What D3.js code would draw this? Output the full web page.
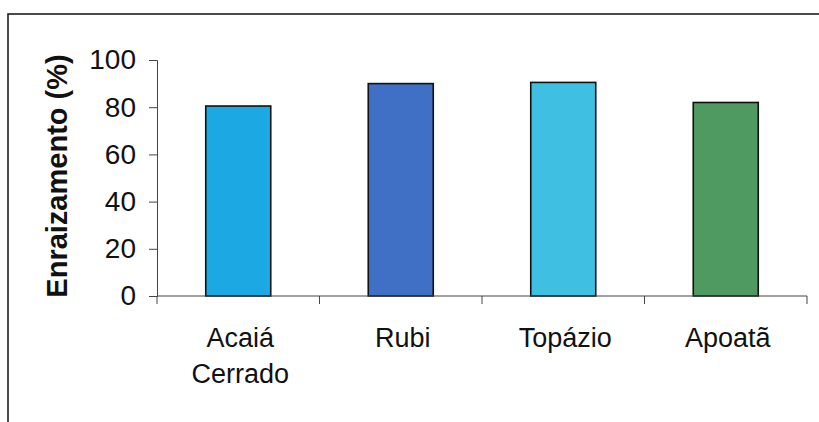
<!DOCTYPE html>
<html><head><meta charset="utf-8">
<script src="https://cdn.jsdelivr.net/npm/d3@7"></script>
<style>body{margin:0;background:#fff}svg{display:block}</style>
</head><body><svg id="c" width="819" height="422"></svg>
<script>
const categories = [["Acaiá","Cerrado"],["Rubi"],["Topázio"],["Apoatã"]];
const values = [80.5, 90, 90.5, 82];
const colors = ["#1ca8e2","#3f70c6","#3fc0e2","#4e9a60"];
const yTicks = [0,20,40,60,80,100];
const yTitle = "Enraizamento (%)";

const svg = d3.select("#c");
const font = "'Liberation Sans', Arial, sans-serif";
// frame
svg.append("rect").attr("x",8).attr("y",14).attr("width",830).attr("height",430)
  .attr("fill","none").attr("stroke","#111").attr("stroke-width",1.5);

const m = {l:157, r:807, t:60, b:296};
const x = d3.scaleBand().domain(d3.range(categories.length)).range([m.l,m.r]).paddingInner(0.6).paddingOuter(0.3);
const y = d3.scaleLinear().domain([0,100]).range([m.b,m.t]);

// bars
svg.selectAll("rect.bar").data(values).enter().append("rect").attr("class","bar")
  .attr("x",(d,i)=>x(i)).attr("width",x.bandwidth())
  .attr("y",d=>y(d)).attr("height",d=>y(0)-y(d))
  .attr("fill",(d,i)=>colors[i]).attr("stroke","#111").attr("stroke-width",1.6);

// y axis
const ya = svg.append("g").attr("transform",`translate(${m.l},0)`)
  .call(d3.axisLeft(y).tickValues(yTicks).tickSize(8).tickPadding(13));
ya.selectAll("path,line").attr("stroke","#444");
ya.selectAll("text").attr("font-family",font).attr("font-size",28).attr("fill","#111");

// x axis with ticks at band boundaries
const xa = svg.append("g").attr("transform",`translate(0,${m.b})`);
const edges = d3.range(categories.length+1).map(i=>m.l + i*(m.r-m.l)/categories.length);
xa.append("line").attr("x1",m.l).attr("x2",m.r).attr("y1",0).attr("y2",0).attr("stroke","#444");
xa.selectAll("line.t").data(edges).enter().append("line").attr("class","t")
  .attr("x1",d=>d).attr("x2",d=>d).attr("y1",0).attr("y2",8).attr("stroke","#444");
const lbl = xa.selectAll("text.c").data(categories).enter().append("text").attr("class","c")
  .attr("x",(d,i)=>x(i)+x.bandwidth()/2+2).attr("y",51)
  .attr("text-anchor","middle").attr("font-family",font).attr("font-size",27).attr("fill","#111");
lbl.selectAll("tspan").data(d=>d).enter().append("tspan")
  .attr("x",function(){return d3.select(this.parentNode).attr("x");})
  .attr("dy",(d,i)=>i===0?0:36).text(d=>d);

// y title
svg.append("text").attr("transform",`translate(67,176) rotate(-90)`)
  .attr("text-anchor","middle").attr("font-family",font).attr("font-size",29)
  .attr("font-weight","bold").attr("fill","#111").text(yTitle);
</script></body></html>
